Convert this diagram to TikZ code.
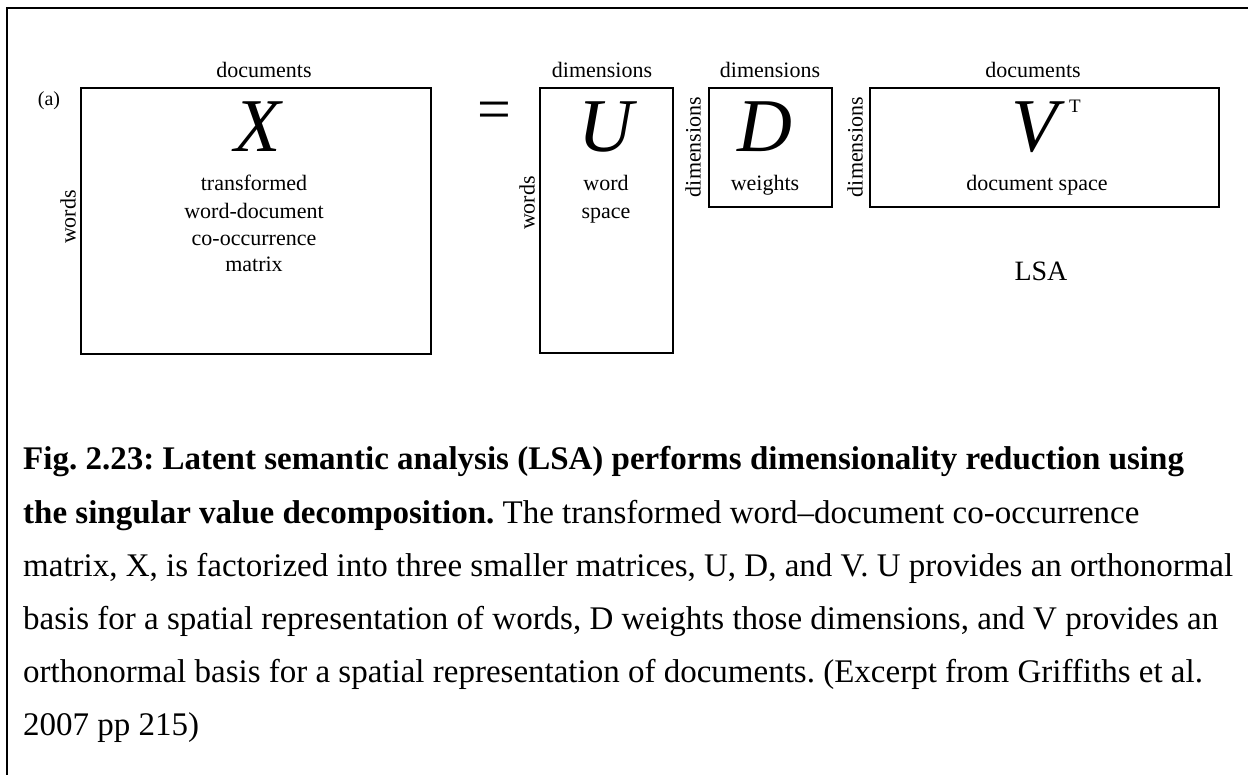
\documentclass[tikz,border=0pt]{standalone}
\usepackage{fontspec}
\setmainfont{Liberation Serif}
\begin{document}
\frenchspacing
\begin{tikzpicture}[x=1pt,y=-1pt,
  mat/.style={draw, line width=1.3pt, inner sep=0pt},
  lab/.style={font=\fontsize{22}{26}\selectfont, anchor=base, inner sep=0pt},
  side/.style={font=\fontsize{22}{26}\selectfont, rotate=90, inner sep=0pt},
  big/.style={font=\fontsize{76}{76}\selectfont\itshape, anchor=base, inner sep=0pt},
  capline/.style={font=\fontsize{33}{40}\selectfont, anchor=base west, inner sep=0pt}]
\useasboundingbox (0,0) rectangle (1248,775);

% outer frame: top and left rules only
\coordinate (ftl) at (7,8);
\coordinate (ftr) at (1248,8);
\coordinate (fbl) at (7,775);
\draw[line width=1.8pt] (ftr) -- (ftl) -- (fbl);

% panel label
\node[font=\fontsize{20}{22}\selectfont, anchor=base, inner sep=0pt] (panel) at (49,106) {(a)};

% X matrix
\node[mat, minimum width=350pt, minimum height=266pt] (X) at (256,221) {};
\node[lab] (Xtop) at (264,78) {documents};
\node[side] (Xside) at (68,217) {words};
\node[big] (Xsym) at (258,152) {X};
\node[lab] (Xl1) at (254,191) {transformed};
\node[lab] (Xl2) at (254,219) {word-document};
\node[lab] (Xl3) at (254,246) {co-occurrence};
\node[lab] (Xl4) at (254,272) {matrix};

% equals sign
\node[font=\fontsize{60}{60}\selectfont, inner sep=0pt] (eq) at (494,116) {=};

% U matrix
\node[mat, minimum width=133pt, minimum height=265pt] (U) at (606.5,220.5) {};
\node[lab] (Utop) at (602,78) {dimensions};
\node[side] (Uside) at (527,203) {words};
\node[big] (Usym) at (606,152) {U};
\node[lab] (Ul1) at (606,191) {word};
\node[lab] (Ul2) at (606,219) {space};

% D matrix
\node[mat, minimum width=123pt, minimum height=119pt] (D) at (770.5,147.5) {};
\node[lab] (Dtop) at (770,78) {dimensions};
\node[side] (Dside) at (693,147) {dimensions};
\node[big] (Dsym) at (765,152) {D};
\node[lab] (Dl1) at (765,191) {weights};

% V transpose matrix
\node[mat, minimum width=349pt, minimum height=119pt] (V) at (1044.5,147.5) {};
\node[lab] (Vtop) at (1033,78) {documents};
\node[side] (Vside) at (855,147) {dimensions};
\node[big] (Vsym) at (1035,152) {V};
\node[font=\fontsize{19}{22}\selectfont, anchor=base, inner sep=0pt] (Vsup) at (1075,113) {T};
\node[lab] (Vl1) at (1037,191) {document space};

\node[font=\fontsize{28}{32}\selectfont, anchor=base, inner sep=0pt] (lsa) at (1041,281) {LSA};

% caption
\node[capline] (c1) at (23,470) {\bfseries Fig. 2.23: Latent semantic analysis (LSA) performs dimensionality reduction using};
\node[capline] (c2) at (23,523) {\textbf{the singular value decomposition.} The transformed word–document co-occurrence};
\node[capline] (c3) at (23,576) {matrix, X, is factorized into three smaller matrices, U, D, and V. U provides an orthonormal};
\node[capline] (c4) at (23,629) {basis for a spatial representation of words, D weights those dimensions, and V provides an};
\node[capline] (c5) at (23,682) {orthonormal basis for a spatial representation of documents. (Excerpt from Griffiths et al.};
\node[capline] (c6) at (23,735) {2007 pp 215)};
\end{tikzpicture}
\end{document}
